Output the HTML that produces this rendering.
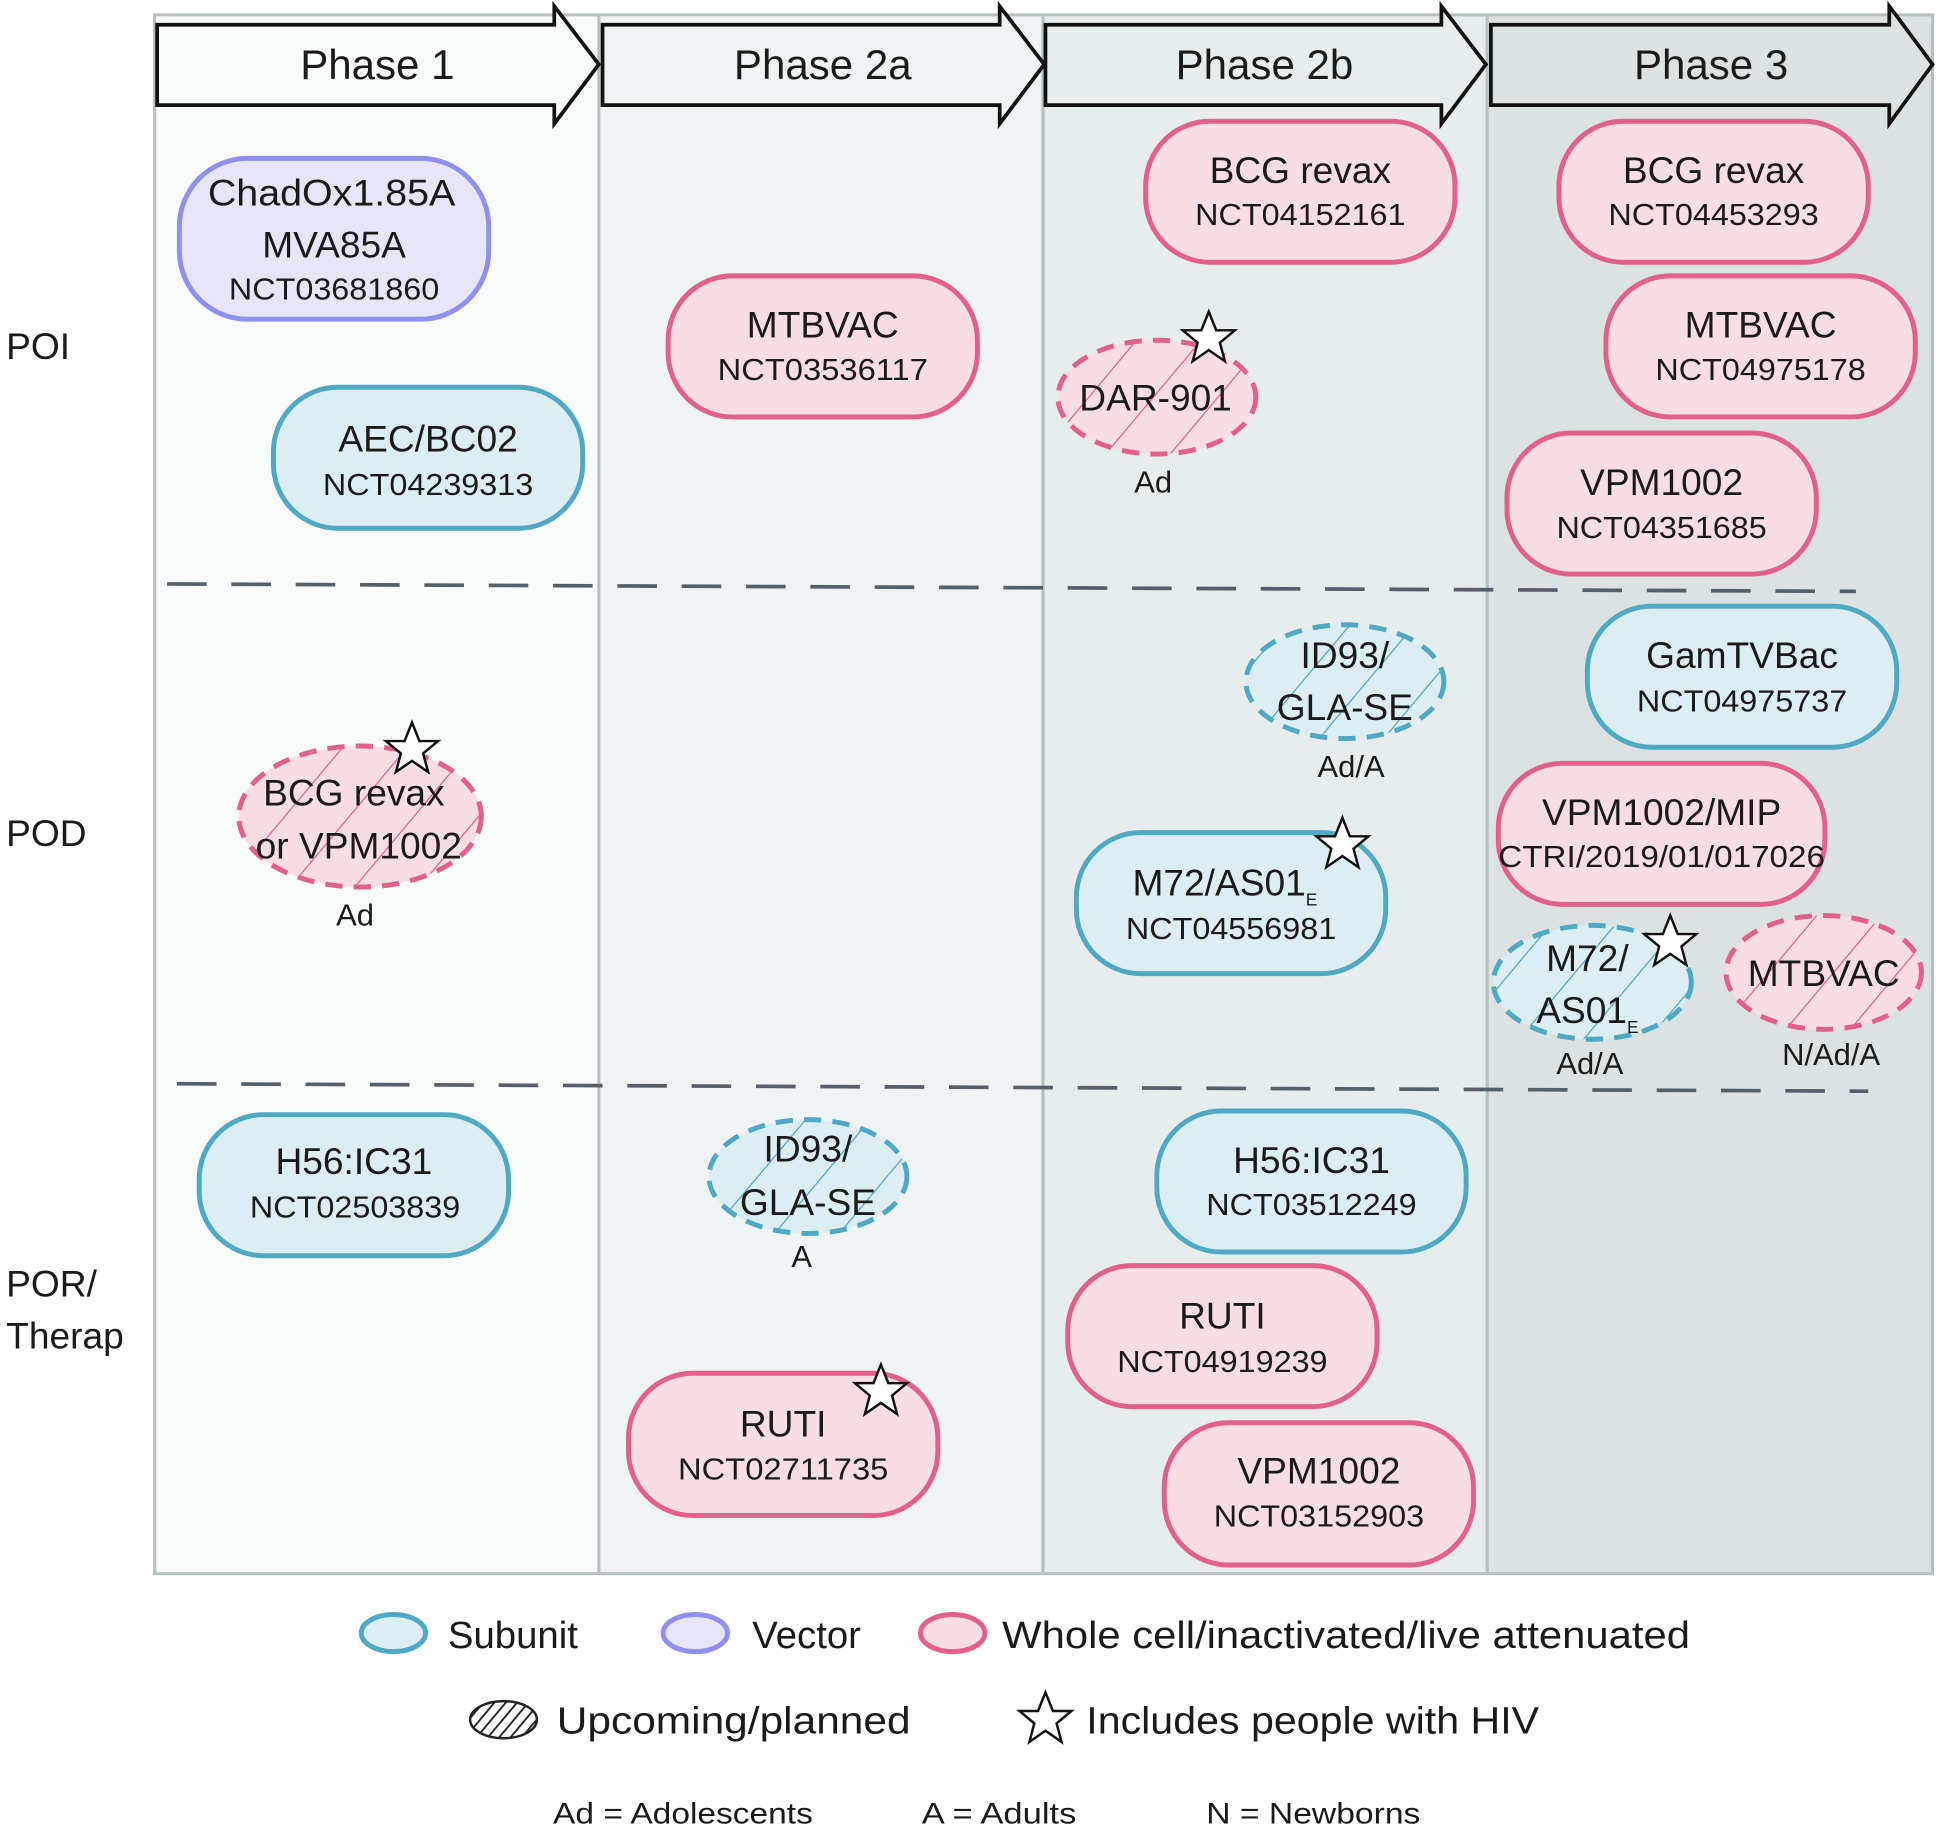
<!DOCTYPE html>
<html><head><meta charset="utf-8"><style>
html,body{margin:0;padding:0;background:#fff;}
svg{display:block;}
text{font-family:"Liberation Sans",sans-serif;fill:#1a1a1a;}
</style></head><body>
<svg width="1940" height="1831" viewBox="0 0 1568 1480" preserveAspectRatio="none" xmlns="http://www.w3.org/2000/svg">
<defs>
<pattern id="hp" patternUnits="userSpaceOnUse" width="40" height="40" patternTransform="rotate(40)">
<rect width="40" height="40" fill="#f9dde4"/><line x1="0" y1="0" x2="0" y2="40" stroke="#e2608a" stroke-width="2"/></pattern>
<pattern id="hb" patternUnits="userSpaceOnUse" width="40" height="40" patternTransform="rotate(40)">
<rect width="40" height="40" fill="#ddeef3"/><line x1="0" y1="0" x2="0" y2="40" stroke="#4fa8c4" stroke-width="2"/></pattern>
<pattern id="hk" patternUnits="userSpaceOnUse" width="7" height="7" patternTransform="rotate(40)">
<rect width="7" height="7" fill="#fff"/><line x1="0" y1="0" x2="0" y2="7" stroke="#222" stroke-width="3"/></pattern>
<path id="star" d="M0,-22 L6,-7 L21,-7 L9,3 L13,18 L0,9 L-13,18 L-9,3 L-21,-7 L-6,-7 Z" fill="#fff" stroke="#111" stroke-width="2"/>
</defs>
<!-- columns -->
<rect x="125" y="12" width="359" height="1260" fill="#f9fafa"/>
<rect x="484" y="12" width="359" height="1260" fill="#f0f3f3"/>
<rect x="843" y="12" width="359" height="1260" fill="#e7ecec"/>
<rect x="1202" y="12" width="360" height="1260" fill="#dbe2e1"/>
<g stroke="#b5c0c0" stroke-width="2.5" fill="none">
<rect x="125" y="12" width="1437" height="1260"/>
<line x1="484" y1="12" x2="484" y2="1272"/><line x1="843" y1="12" x2="843" y2="1272"/><line x1="1202" y1="12" x2="1202" y2="1272"/>
</g>
<!-- arrows -->
<g stroke="#111" stroke-width="3" stroke-linejoin="miter">
<path d="M127,20 H448 V5 L484,52 L448,100 V85 H127 Z" fill="#f9fafa"/>
<path d="M487,20 H808 V5 L844,52 L808,100 V85 H487 Z" fill="#f0f3f3"/>
<path d="M845,20 H1165 V5 L1201,52 L1165,100 V85 H845 Z" fill="#e7ecec"/>
<path d="M1205,20 H1527 V5 L1562,52 L1527,100 V85 H1205 Z" fill="#dbe2e1"/>
</g>
<g font-size="34" text-anchor="middle">
<text x="305" y="64">Phase 1</text><text x="665" y="64">Phase 2a</text>
<text x="1022" y="64">Phase 2b</text><text x="1383" y="64">Phase 3</text>
</g>
<!-- dashed lines -->
<g stroke="#56606a" stroke-width="3" stroke-dasharray="32 20" fill="none">
<line x1="135" y1="472" x2="1500" y2="478"/>
<line x1="143" y1="876" x2="1510" y2="882"/>
</g>
<g font-size="30">
<text x="5" y="290">POI</text><text x="5" y="684">POD</text>
<text x="5" y="1048">POR/</text><text x="5" y="1090">Therap</text>
</g>
<!-- solid pills -->
<g stroke-width="4">
<rect x="145" y="128" width="250" height="130" rx="55" fill="#e6e6f8" stroke="#8f8ff0"/>
<rect x="221" y="313" width="250" height="114" rx="52" fill="#ddeef3" stroke="#4fa8c4"/>
<rect x="540" y="223" width="250" height="114" rx="52" fill="#f9dde4" stroke="#e2608a"/>
<rect x="926" y="98" width="250" height="114" rx="52" fill="#f9dde4" stroke="#e2608a"/>
<rect x="1260" y="98" width="250" height="114" rx="52" fill="#f9dde4" stroke="#e2608a"/>
<rect x="1298" y="223" width="250" height="114" rx="52" fill="#f9dde4" stroke="#e2608a"/>
<rect x="1218" y="350" width="250" height="114" rx="52" fill="#f9dde4" stroke="#e2608a"/>
<rect x="1283" y="490" width="250" height="114" rx="52" fill="#ddeef3" stroke="#4fa8c4"/>
<rect x="870" y="673" width="250" height="114" rx="52" fill="#ddeef3" stroke="#4fa8c4"/>
<rect x="1211" y="617" width="264" height="114" rx="52" fill="#f9dde4" stroke="#e2608a"/>
<rect x="161" y="901" width="250" height="114" rx="52" fill="#ddeef3" stroke="#4fa8c4"/>
<rect x="935" y="898" width="250" height="114" rx="52" fill="#ddeef3" stroke="#4fa8c4"/>
<rect x="863" y="1023" width="250" height="114" rx="52" fill="#f9dde4" stroke="#e2608a"/>
<rect x="508" y="1110" width="250" height="115" rx="52" fill="#f9dde4" stroke="#e2608a"/>
<rect x="941" y="1150" width="250" height="115" rx="52" fill="#f9dde4" stroke="#e2608a"/>
</g>
<!-- dashed ellipses -->
<g stroke-width="4" stroke-dasharray="14 9">
<ellipse cx="935" cy="321" rx="80" ry="46" fill="url(#hp)" stroke="#e2608a"/>
<ellipse cx="1087" cy="551" rx="80" ry="46" fill="url(#hb)" stroke="#4fa8c4"/>
<ellipse cx="291" cy="660" rx="98" ry="57" fill="url(#hp)" stroke="#e2608a"/>
<ellipse cx="1287" cy="794" rx="80" ry="46" fill="url(#hb)" stroke="#4fa8c4"/>
<ellipse cx="1474" cy="786" rx="79" ry="46" fill="url(#hp)" stroke="#e2608a"/>
<ellipse cx="653" cy="951" rx="80" ry="46" fill="url(#hb)" stroke="#4fa8c4"/>
</g>
<!-- texts -->
<g font-size="30" text-anchor="middle">
<text x="268" y="166" textLength="200" lengthAdjust="spacingAndGlyphs">ChadOx1.85A</text>
<text x="270" y="208">MVA85A</text>
<text x="346" y="365">AEC/BC02</text>
<text x="665" y="273">MTBVAC</text>
<text x="1051" y="148">BCG revax</text>
<text x="1385" y="148">BCG revax</text>
<text x="1423" y="273">MTBVAC</text>
<text x="1343" y="400">VPM1002</text>
<text x="934" y="332">DAR-901</text>
<text x="1087" y="540">ID93/</text>
<text x="1087" y="582">GLA-SE</text>
<text x="1408" y="540">GamTVBac</text>
<text x="286" y="651">BCG revax</text>
<text x="290" y="694">or VPM1002</text>
<text x="990" y="724">M72/AS01<tspan font-size="14" dy="8">E</tspan></text>
<text x="1343" y="667">VPM1002/MIP</text>
<text x="1283" y="785">M72/</text>
<text x="1283" y="827">AS01<tspan font-size="14" dy="8">E</tspan></text>
<text x="1474" y="797">MTBVAC</text>
<text x="286" y="949">H56:IC31</text>
<text x="653" y="939">ID93/</text>
<text x="653" y="982">GLA-SE</text>
<text x="1060" y="948">H56:IC31</text>
<text x="988" y="1074">RUTI</text>
<text x="633" y="1161">RUTI</text>
<text x="1066" y="1199">VPM1002</text>
</g>
<g font-size="25" text-anchor="middle">
<text x="270" y="242" textLength="170" lengthAdjust="spacingAndGlyphs">NCT03681860</text>
<text x="346" y="400" textLength="170" lengthAdjust="spacingAndGlyphs">NCT04239313</text>
<text x="665" y="307" textLength="170" lengthAdjust="spacingAndGlyphs">NCT03536117</text>
<text x="1051" y="182" textLength="170" lengthAdjust="spacingAndGlyphs">NCT04152161</text>
<text x="1385" y="182" textLength="170" lengthAdjust="spacingAndGlyphs">NCT04453293</text>
<text x="1423" y="307" textLength="170" lengthAdjust="spacingAndGlyphs">NCT04975178</text>
<text x="1343" y="435" textLength="170" lengthAdjust="spacingAndGlyphs">NCT04351685</text>
<text x="1408" y="575" textLength="170" lengthAdjust="spacingAndGlyphs">NCT04975737</text>
<text x="995" y="759" textLength="170" lengthAdjust="spacingAndGlyphs">NCT04556981</text>
<text x="1343" y="701" textLength="264" lengthAdjust="spacingAndGlyphs">CTRI/2019/01/017026</text>
<text x="287" y="984" textLength="170" lengthAdjust="spacingAndGlyphs">NCT02503839</text>
<text x="1060" y="982" textLength="170" lengthAdjust="spacingAndGlyphs">NCT03512249</text>
<text x="988" y="1109" textLength="170" lengthAdjust="spacingAndGlyphs">NCT04919239</text>
<text x="633" y="1196" textLength="170" lengthAdjust="spacingAndGlyphs">NCT02711735</text>
<text x="1066" y="1234" textLength="170" lengthAdjust="spacingAndGlyphs">NCT03152903</text>
<text x="932" y="398">Ad</text>
<text x="1092" y="628">Ad/A</text>
<text x="287" y="748">Ad</text>
<text x="1285" y="868">Ad/A</text>
<text x="1480" y="861">N/Ad/A</text>
<text x="648" y="1024">A</text>
</g>
<!-- stars -->
<use href="#star" x="977" y="274"/>
<use href="#star" x="333" y="606"/>
<use href="#star" x="1085" y="683"/>
<use href="#star" x="1350" y="762"/>
<use href="#star" x="712" y="1125"/>
<!-- legend -->
<g stroke-width="4">
<ellipse cx="318" cy="1320" rx="26" ry="15" fill="#ddeef3" stroke="#4fa8c4"/>
<ellipse cx="562" cy="1320" rx="26" ry="15" fill="#e6e6f8" stroke="#8f8ff0"/>
<ellipse cx="770" cy="1320" rx="26" ry="15" fill="#f9dde4" stroke="#e2608a"/>
</g>
<ellipse cx="407" cy="1390" rx="27" ry="15" fill="url(#hk)" stroke="#222" stroke-width="2"/>
<use href="#star" x="845" y="1390"/>
<g font-size="31">
<text x="362" y="1332">Subunit</text>
<text x="608" y="1332">Vector</text>
<text x="810" y="1332" textLength="556" lengthAdjust="spacingAndGlyphs">Whole cell/inactivated/live attenuated</text>
<text x="450" y="1401" textLength="286" lengthAdjust="spacingAndGlyphs">Upcoming/planned</text>
<text x="878" y="1401" textLength="366" lengthAdjust="spacingAndGlyphs">Includes people with HIV</text>
</g>
<g font-size="24">
<text x="447" y="1474" textLength="210" lengthAdjust="spacingAndGlyphs">Ad = Adolescents</text>
<text x="745" y="1474" textLength="125" lengthAdjust="spacingAndGlyphs">A = Adults</text>
<text x="975" y="1474" textLength="173" lengthAdjust="spacingAndGlyphs">N = Newborns</text>
</g>
</svg>
</body></html>
